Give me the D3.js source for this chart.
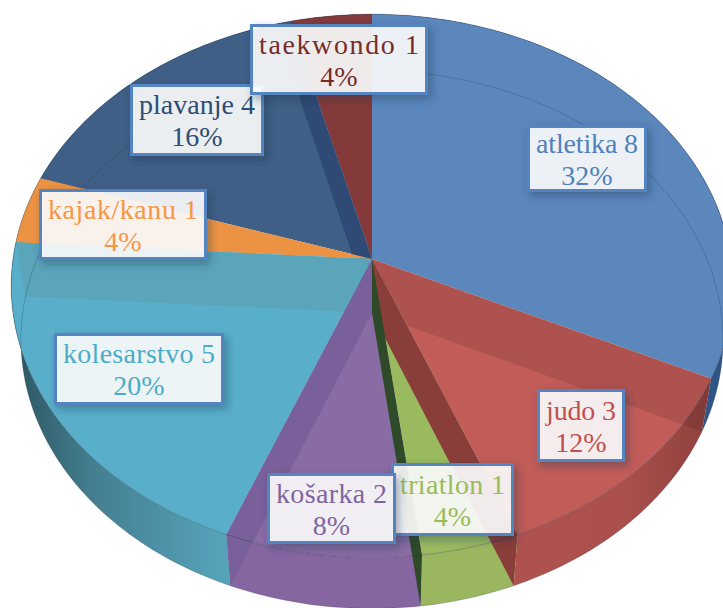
<!DOCTYPE html>
<html>
<head>
<meta charset="utf-8">
<script src="https://cdn.jsdelivr.net/npm/d3@7"></script>
<style>
  html, body { margin: 0; padding: 0; background: #fff; overflow: hidden; }
  svg { display: block; }
</style>
</head>
<body>
<div id="chart"></div>
<script>
/* DATA */
const categories = ["atletika", "judo", "triatlon", "košarka", "kolesarstvo", "kajak/kanu", "plavanje", "taekwondo"];
const counts = [8, 3, 1, 2, 5, 1, 4, 1];
const percents = ["32%", "12%", "4%", "8%", "20%", "4%", "16%", "4%"];

/* COLOURS, one per category */
const textColors = ["#4f81bd", "#c0504d", "#9bbb59", "#8064a2", "#4bacc6", "#f79646", "#2c4d75", "#772c2a"];
const topColors = ["#5b87bd", "#c15c58", "#9aba60", "#8a6ca5", "#59afca", "#ec9343", "#3f5f86", "#843a3a"];
const sideColors = ["#2f5585", "url(#sideJudo)", "#9ab75f", "#8566a1", "url(#sideTeal)", "#ec9343", "#3f5f86", "#843a3a"];

/* LABEL BOXES: left, top, right, bottom, in category order */
const labelBoxes = [
  [527, 125, 647, 192],
  [537, 389, 625, 462],
  [391, 463, 514, 536],
  [267, 473, 396, 544],
  [54, 333, 224, 405],
  [39, 189, 207, 260],
  [130, 84, 264, 156],
  [250, 24, 428, 95]
];

const width = 723,
  height = 608;

/* PROJECTION, the pie is seen in perspective so the front is bigger than the back */
const cx = 372,
  topY = 259,
  bottomY = 313,
  radiusX = 359,
  radiusY = 269,
  persp = 0.099,
  bottomScaleX = 0.973,
  bottomScaleY = 0.99;

function rim(angle, level) {
  const c = Math.cos(angle);
  const w = 1 + persp * c;
  const x = radiusX * Math.sin(angle) / w;
  const y = -radiusY * c / w;
  if (level === "top") return [cx + x, topY + y];
  return [cx + x * bottomScaleX, bottomY + y * bottomScaleY];
}

function arcPoints(a0, a1, level) {
  const n = Math.max(2, Math.ceil((a1 - a0) / 0.02));
  return d3.range(n + 1).map(i => rim(a0 + (a1 - a0) * i / n, level));
}

const line = d3.line();
const closed = pts => line(pts) + "Z";

const slices = d3.pie().sort(null).value(d => d)(counts);

const svg = d3.select("#chart")
  .append("svg")
  .attr("width", width)
  .attr("height", height);

const defs = svg.append("defs");

const shadow = defs.append("filter")
  .attr("id", "boxShadow")
  .attr("x", "-20%").attr("y", "-20%")
  .attr("width", "140%").attr("height", "150%");
shadow.append("feDropShadow")
  .attr("dx", 3).attr("dy", 4)
  .attr("stdDeviation", 4)
  .attr("flood-color", "#1f2f45")
  .attr("flood-opacity", 0.4);

function sideGradient(id, stops) {
  const g = defs.append("linearGradient")
    .attr("id", id)
    .attr("gradientUnits", "userSpaceOnUse")
    .attr("x1", 0).attr("x2", width)
    .attr("y1", 0).attr("y2", 0);
  stops.forEach(s => g.append("stop").attr("offset", s[0]).attr("stop-color", s[1]));
}
sideGradient("sideTeal", [[0.03, "#2f5a66"], [0.13, "#447f91"], [0.3, "#55a2b9"]]);
sideGradient("sideJudo", [[0.68, "#b05350"], [0.86, "#ab504d"], [0.98, "#8f413e"]]);

/* SIDE BAND, under the top face */
const sides = svg.append("g").attr("class", "sides");
sides.selectAll("path")
  .data(slices)
  .join("path")
  .attr("fill", (d, i) => sideColors[i])
  .attr("d", d => closed(arcPoints(d.startAngle, d.endAngle, "top")
    .concat(arcPoints(d.startAngle, d.endAngle, "bottom").reverse())));

/* TOP FACE AND CUT WALLS, the walls show through the glassy slices */
function sector(d) {
  return closed([[cx, topY]].concat(arcPoints(d.startAngle, d.endAngle, "top")));
}
function wall(angle) {
  return closed([[cx, topY], rim(angle, "top"), rim(angle, "bottom"), [cx, bottomY]]);
}

const faces = svg.append("g").attr("class", "faces");
function face(i) {
  faces.append("path").attr("fill", topColors[i]).attr("d", sector(slices[i]));
}
function cut(angle, color, opacity) {
  faces.append("path")
    .attr("fill", color)
    .attr("fill-opacity", opacity)
    .attr("d", wall(angle));
}

face(0);
face(7);
face(6);
cut(slices[6].endAngle, "#2e4a75", 1);
face(5);
face(4);
face(3);
face(2);
face(1);
cut(slices[4].endAngle, "#5aa5ba", 1);
cut(slices[3].endAngle, "#7a609a", 1);
cut(slices[0].endAngle, "#000", 0.1);
cut(slices[1].endAngle, "#8a3e39", 1);
cut(slices[2].endAngle, "#2f4a28", 1);

/* RIM LINES */
svg.append("path")
  .attr("fill", "none")
  .attr("stroke", "#1f2f45")
  .attr("stroke-opacity", 0.25)
  .attr("stroke-width", 1)
  .attr("d", closed(arcPoints(0, 2 * Math.PI, "bottom")));

svg.append("path")
  .attr("fill", "none")
  .attr("stroke", "#1f2f45")
  .attr("stroke-opacity", 0.35)
  .attr("stroke-width", 1)
  .attr("d", closed(arcPoints(0, 2 * Math.PI, "top")));

/* LABELS */
const labels = svg.selectAll("g.label")
  .data(d3.range(categories.length))
  .join("g")
  .attr("class", "label");

const boxMidY = i => (labelBoxes[i][1] + labelBoxes[i][3]) / 2;
const boxMidX = i => (labelBoxes[i][0] + labelBoxes[i][2]) / 2;

labels.append("rect")
  .attr("x", i => labelBoxes[i][0] + 1.5)
  .attr("y", i => labelBoxes[i][1] + 1.5)
  .attr("width", i => labelBoxes[i][2] - labelBoxes[i][0] - 3)
  .attr("height", i => labelBoxes[i][3] - labelBoxes[i][1] - 3)
  .attr("fill", "#fff")
  .attr("fill-opacity", 0.88)
  .attr("stroke", "#5585c0")
  .attr("stroke-width", 3)
  .attr("filter", "url(#boxShadow)");

// the reference font runs wider than Liberation Serif, so the name line is fitted to its box
labels.append("text")
  .attr("x", boxMidX)
  .attr("y", i => boxMidY(i) - 6)
  .attr("text-anchor", "middle")
  .attr("font-family", "'Liberation Serif', serif")
  .attr("font-size", 28)
  .attr("textLength", i => labelBoxes[i][2] - labelBoxes[i][0] - 18)
  .attr("lengthAdjust", "spacing")
  .attr("fill", i => textColors[i])
  .text(i => categories[i] + " " + counts[i]);

labels.append("text")
  .attr("x", boxMidX)
  .attr("y", i => boxMidY(i) + 26)
  .attr("text-anchor", "middle")
  .attr("font-family", "'Liberation Serif', serif")
  .attr("font-size", 28)
  .attr("fill", i => textColors[i])
  .text(i => percents[i]);
</script>
</body>
</html>
